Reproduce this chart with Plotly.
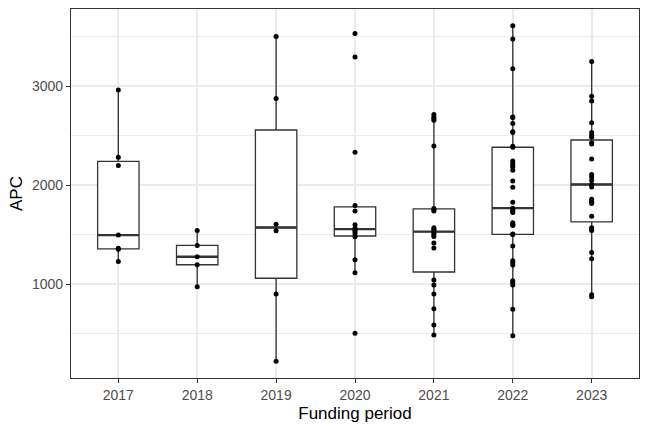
import numpy as np
import plotly.graph_objects as go

years = ["2017", "2018", "2019", "2020", "2021", "2022", "2023"]

apc_2017 = [1229, 1351, 1361, 1495, 2199, 2283, 2963]
apc_2018 = [973, 1195, 1276, 1391, 1542]
apc_2019 = [219, 899, 1538, 1606, 2876, 3505]
apc_2020 = [502, 1114, 1246, 1478, 1510, 1530, 1545, 1565, 1600, 1740, 1795, 2333, 3296, 3535]
apc_2021 = [485, 586, 751, 899, 990, 1041, 1364, 1414, 1480, 1500, 1520, 1540, 1555, 1570,
            1740, 1750, 1765, 2397, 2657, 2674, 2690, 2715]
apc_2022 = [478, 744, 990, 1015, 1033, 1192, 1215, 1235, 1384, 1502,
            1505, 1593, 1600, 1606, 1619, 1724, 1740, 1748, 1768,
            1828, 1980, 2043, 2152, 2185, 2200, 2219, 2245, 2384,
            2395, 2532, 2540, 2623, 2684, 2690, 3179, 3478, 3613]
apc_2023 = [872, 892, 1256, 1320, 1542, 1556, 1569, 1687, 1815, 1830, 1838, 1859, 1983, 2007,
            2047, 2084, 2108, 2266, 2417, 2430, 2485, 2505, 2532, 2633, 2851, 2899, 3252]

groups = [apc_2017, apc_2018, apc_2019, apc_2020, apc_2021, apc_2022, apc_2023]

q1s, meds, q3s, lfs, ufs = [], [], [], [], []
for g in groups:
    v = np.array(sorted(g), dtype=float)
    q1, med, q3 = np.percentile(v, [25, 50, 75])
    iqr = q3 - q1
    lf = v[v >= q1 - 1.5 * iqr].min()
    uf = v[v <= q3 + 1.5 * iqr].max()
    q1s.append(q1); meds.append(med); q3s.append(q3); lfs.append(lf); ufs.append(uf)

all_vals = np.concatenate([np.array(g, dtype=float) for g in groups])
lo, hi = all_vals.min(), all_vals.max()
pad = 0.05 * (hi - lo)

fig = go.Figure()

fig.add_trace(go.Box(
    x=years, q1=q1s, median=meds, q3=q3s, lowerfence=lfs, upperfence=ufs,
    fillcolor="white", line=dict(color="#333333", width=1.3),
    whiskerwidth=0, boxpoints=False, showlegend=False, hoverinfo="skip",
))
# thicker median line (ggplot fatten)
fig.add_trace(go.Box(
    x=years, q1=meds, median=meds, q3=meds, lowerfence=meds, upperfence=meds,
    fillcolor="rgba(0,0,0,0)", line=dict(color="#333333", width=2.3),
    whiskerwidth=0, boxpoints=False, showlegend=False, hoverinfo="skip",
))

px, py = [], []
for yr, g in zip(years, groups):
    px += [yr] * len(g)
    py += list(g)
fig.add_trace(go.Scatter(
    x=px, y=py, mode="markers",
    marker=dict(color="black", size=5, line=dict(width=0)),
    showlegend=False,
))

grid = "#EBEBEB"
fig.update_layout(
    width=648, height=432,
    margin=dict(l=71, r=9, t=9, b=54),
    paper_bgcolor="white", plot_bgcolor="white",
    boxmode="overlay", boxgap=0.25,
    font=dict(family="Liberation Sans, Arial, sans-serif", color="#4D4D4D"),
)
fig.update_xaxes(
    type="category", categoryorder="array", categoryarray=years,
    range=[-0.6, len(years) - 0.4],
    showgrid=True, gridcolor=grid, gridwidth=1.6,
    showline=True, mirror=True, linecolor="#333333", linewidth=1.3,
    ticks="outside", ticklen=4, tickwidth=1.2, tickcolor="#333333",
    tickfont=dict(size=14, color="#4D4D4D"),
    title=dict(text="Funding period", font=dict(size=17, color="black"), standoff=5),
    zeroline=False,
)
fig.update_yaxes(
    range=[lo - pad, hi + pad],
    tickvals=[1000, 2000, 3000],
    showgrid=True, gridcolor=grid, gridwidth=1.6,
    minor=dict(tickvals=[500, 1500, 2500, 3500], showgrid=True, gridcolor=grid, gridwidth=0.8, ticks=""),
    showline=True, mirror=True, linecolor="#333333", linewidth=1.3,
    ticks="outside", ticklen=4, tickwidth=1.2, tickcolor="#333333",
    tickfont=dict(size=14, color="#4D4D4D"),
    title=dict(text="APC", font=dict(size=17, color="black"), standoff=4),
    zeroline=False,
)

fig.write_html("out.html")
